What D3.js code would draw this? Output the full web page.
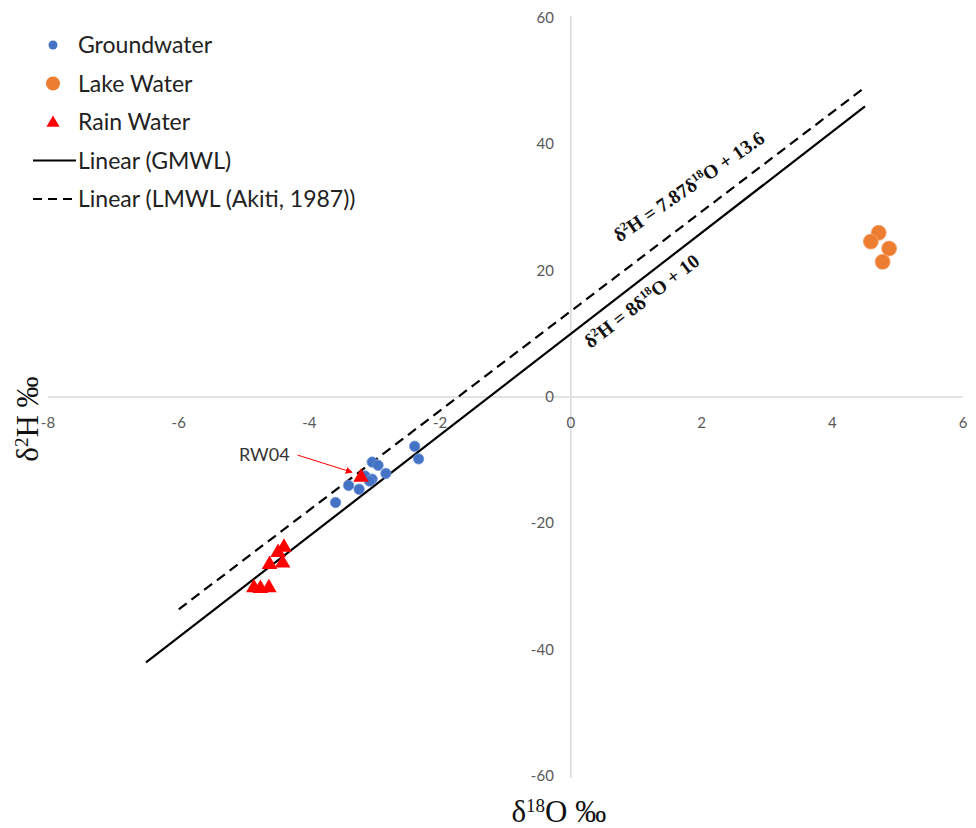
<!DOCTYPE html>
<html>
<head>
<meta charset="utf-8">
<script src="https://cdnjs.cloudflare.com/ajax/libs/d3/7.8.5/d3.min.js"></script>
<style>
    body { margin: 0; background: #fff; }
    .tick-label { font-family: Lato, "Open Sans", sans-serif; font-size: 15px; fill: #595959; }
    .legend-label { font-family: Lato, "Open Sans", sans-serif; font-size: 23px; fill: #222; }
    .axis-title { font-family: "Liberation Serif", "DejaVu Serif", serif; font-size: 31px; fill: #111; }
    .equation { font-family: "Liberation Serif", "DejaVu Serif", serif; font-size: 19.5px; font-weight: bold; fill: #111; }
</style>
</head>
<body>
<div id="chart"></div>
<script>
// Groundwater samples (d18O, d2H)
let groundX = [-2.39, -2.33, -3.04, -2.95, -2.83, -3.15, -3.04, -3.08, -3.24, -3.40, -3.60];
let groundY = [-7.8, -9.8, -10.3, -10.8, -12.1, -12.5, -13.0, -13.3, -14.6, -14.0, -16.7];

// Lake water samples
let lakeX = [4.71, 4.59, 4.87, 4.77];
let lakeY = [26.0, 24.6, 23.5, 21.4];

// Rain water samples (first one is RW04)
let rainX = [-3.21, -4.39, -4.48, -4.41, -4.61, -4.85, -4.75, -4.62];
let rainY = [-12.7, -23.8, -24.6, -26.3, -26.5, -30.2, -30.3, -30.2];

// Meteoric water lines: slope, intercept, x range
let gmwl = { slope: 8, intercept: 10, from: -6.5, to: 4.5 };
let lmwl = { slope: 7.87, intercept: 13.6, from: -6, to: 4.5 };

let xTicks = [-8, -6, -4, -2, 0, 2, 4, 6];
let yTicks = [-60, -40, -20, 0, 20, 40, 60];

let legendItems = ["Groundwater", "Lake Water", "Rain Water", "Linear (GMWL)", "Linear (LMWL (Akiti, 1987))"];

let toPoints = function (xs, ys) {
    return xs.map(function (x, i) { return { x: x, y: ys[i] }; });
}

let displayChart = function () {
    let width = 976;
    let height = 828;

    let blue = "#4472C4";
    let orange = "#ED7D31";
    let red = "#FF0000";
    let axisGray = "#d9d9d9";

    let xScale = d3.scaleLinear()
        .domain([-8, 6])
        .range([48, 963]);

    let yScale = d3.scaleLinear()
        .domain([-60, 60])
        .range([776, 18]);

    let svg = d3.select("#chart")
        .append("svg")
        .attr("width", width)
        .attr("height", height);

    // axes cross at the origin
    svg.append("line")
        .attr("x1", xScale(-8)).attr("x2", xScale(6))
        .attr("y1", yScale(0)).attr("y2", yScale(0))
        .style("stroke", axisGray).style("stroke-width", 1.5);

    svg.append("line")
        .attr("x1", xScale(0)).attr("x2", xScale(0))
        .attr("y1", yScale(60) - 2).attr("y2", yScale(-60) + 2)
        .style("stroke", axisGray).style("stroke-width", 1.5);

    // tick labels
    svg.selectAll(".xtick")
        .data(xTicks)
        .enter()
        .append("text")
        .attr("class", "tick-label")
        .attr("x", function (d) { return xScale(d); })
        .attr("y", yScale(0) + 31)
        .attr("text-anchor", "middle")
        .text(function (d) { return d; });

    svg.selectAll(".ytick")
        .data(yTicks)
        .enter()
        .append("text")
        .attr("class", "tick-label")
        .attr("x", xScale(0) - 17)
        .attr("y", function (d) { return yScale(d) + 5; })
        .attr("text-anchor", "end")
        .text(function (d) { return d; });

    // water lines
    let drawLine = function (l, dash) {
        let pts = [l.from, l.to].map(function (x) {
            return { x: x, y: l.slope * x + l.intercept };
        });
        svg.append("path")
            .datum(pts)
            .attr("d", d3.line()
                .x(function (d) { return xScale(d.x); })
                .y(function (d) { return yScale(d.y); }))
            .style("fill", "none")
            .style("stroke", "#000")
            .style("stroke-width", 2.2)
            .style("stroke-dasharray", dash);
    }
    drawLine(lmwl, "10,6");
    drawLine(gmwl, null);

    // groundwater
    svg.selectAll(".ground")
        .data(toPoints(groundX, groundY))
        .enter()
        .append("circle")
        .attr("cx", function (d) { return xScale(d.x); })
        .attr("cy", function (d) { return yScale(d.y); })
        .attr("r", 5.2)
        .style("fill", blue)
        .style("stroke", "#6f93d6")
        .style("stroke-width", 0.8);

    // lake water
    svg.selectAll(".lake")
        .data(toPoints(lakeX, lakeY))
        .enter()
        .append("circle")
        .attr("cx", function (d) { return xScale(d.x); })
        .attr("cy", function (d) { return yScale(d.y); })
        .attr("r", 7.5)
        .style("fill", orange)
        .style("stroke", "#f4a470")
        .style("stroke-width", 0.8);

    // rain water
    let tri = d3.symbol().type(d3.symbolTriangle).size(105);
    svg.selectAll(".rain")
        .data(toPoints(rainX, rainY))
        .enter()
        .append("path")
        .attr("d", tri)
        .attr("transform", function (d) {
            return "translate(" + xScale(d.x) + "," + yScale(d.y) + ")";
        })
        .style("fill", red);

    // RW04 annotation
    svg.append("defs").append("marker")
        .attr("id", "arrow")
        .attr("viewBox", "0 0 10 10")
        .attr("refX", 9).attr("refY", 5)
        .attr("markerWidth", 7).attr("markerHeight", 7)
        .attr("orient", "auto")
        .append("path")
        .attr("d", "M0,0 L10,5 L0,10 z")
        .style("fill", red);

    svg.append("text")
        .attr("class", "tick-label")
        .attr("x", xScale(-4.69))
        .attr("y", yScale(-10.1))
        .attr("text-anchor", "middle")
        .style("font-size", "18px")
        .style("fill", "#333")
        .text("RW04");

    svg.append("line")
        .attr("x1", xScale(-4.18)).attr("y1", yScale(-9.2))
        .attr("x2", xScale(rainX[0]) - 9).attr("y2", yScale(rainY[0]) - 5)
        .style("stroke", red)
        .style("stroke-width", 1)
        .attr("marker-end", "url(#arrow)");

    // equation labels along the lines
    let angle = -Math.atan((8 * (yScale(0) - yScale(1))) / (xScale(1) - xScale(0))) * 180 / Math.PI;

    let addEquation = function (x, y, rot, parts) {
        let t = svg.append("text")
            .attr("class", "equation")
            .attr("transform", "translate(" + xScale(x) + "," + yScale(y) + ") rotate(" + rot + ")");
        parts.forEach(function (p) {
            let s = t.append("tspan").text(p[0]);
            if (p[1]) {
                s.attr("baseline-shift", "super").style("font-size", "12px");
            }
        });
    }
    addEquation(0.74, 24.4, angle + 3, [["δ"], ["2", true], ["H = 7.87δ"], ["18", true], ["O + 13.6"]]);
    addEquation(0.3, 7.6, angle, [["δ"], ["2", true], ["H = 8δ"], ["18", true], ["O + 10"]]);

    // axis titles
    let yTitle = svg.append("text")
        .attr("class", "axis-title")
        .attr("transform", "translate(38," + yScale(-3.5) + ") rotate(-90)")
        .attr("text-anchor", "middle");
    yTitle.append("tspan").text("δ");
    yTitle.append("tspan").text("2").attr("baseline-shift", "super").style("font-size", "19px");
    yTitle.append("tspan").text("H ‰");

    let xTitle = svg.append("text")
        .attr("class", "axis-title")
        .attr("x", xScale(0) - 12)
        .attr("y", 822)
        .attr("text-anchor", "middle");
    xTitle.append("tspan").text("δ");
    xTitle.append("tspan").text("18").attr("baseline-shift", "super").style("font-size", "19px");
    xTitle.append("tspan").text("O ‰");

    // legend
    let legend = svg.append("g");
    let rowY = function (i) { return 45 + i * 38.5; };

    legend.append("circle").attr("cx", 53).attr("cy", rowY(0)).attr("r", 4.5).style("fill", blue);
    legend.append("circle").attr("cx", 53).attr("cy", rowY(1)).attr("r", 7).style("fill", orange);
    legend.append("path").attr("d", d3.symbol().type(d3.symbolTriangle).size(75))
        .attr("transform", "translate(53," + (rowY(2) + 1) + ")").style("fill", red);
    legend.append("line").attr("x1", 33).attr("x2", 76).attr("y1", rowY(3)).attr("y2", rowY(3))
        .style("stroke", "#000").style("stroke-width", 2.2);
    legend.append("line").attr("x1", 33).attr("x2", 76).attr("y1", rowY(4)).attr("y2", rowY(4))
        .style("stroke", "#000").style("stroke-width", 2.2).style("stroke-dasharray", "9,6");

    legend.selectAll(".legend-label")
        .data(legendItems)
        .enter()
        .append("text")
        .attr("class", "legend-label")
        .attr("x", 78)
        .attr("y", function (d, i) { return rowY(i) + 8; })
        .text(function (d) { return d; });
};

window.onload = function () {
    displayChart();
}
</script>
</body>
</html>
